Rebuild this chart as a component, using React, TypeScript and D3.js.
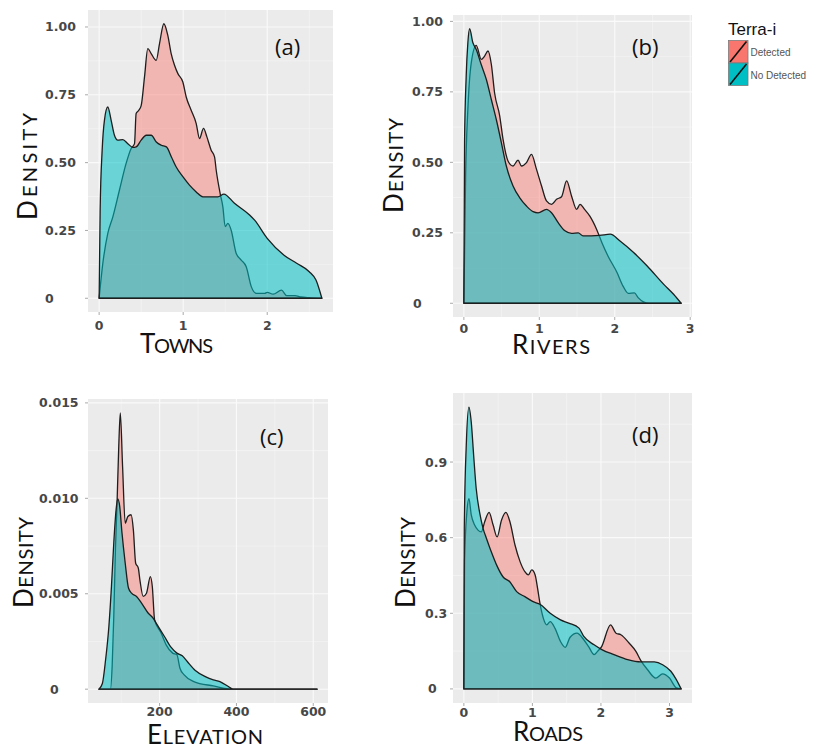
import React from "react";
import * as d3 from "d3";

// ---------------- DATA ----------------
const legendTitle = "Terra-i";
const seriesLabels = ["Detected", "No Detected"];
const seriesColors = ["#F8766D", "#00BFC4"];

// (a) Towns
const townsDetectedX = [0, 0.044, 0.103, 0.163, 0.242, 0.321, 0.381, 0.421, 0.44, 0.472, 0.5, 0.54, 0.579, 0.619, 0.679, 0.718, 0.77, 0.817, 0.857, 0.897, 0.937, 0.996, 1.036, 1.095, 1.155, 1.194, 1.242, 1.282, 1.333, 1.373, 1.393, 1.44, 1.472, 1.5, 1.532, 1.571, 1.63, 1.69, 1.75, 1.81, 1.87, 1.97, 2.0, 2.07, 2.17, 2.23, 2.33, 2.4, 2.5, 2.65];
const townsDetectedY = [0, 0.129, 0.239, 0.3, 0.399, 0.497, 0.552, 0.57, 0.681, 0.693, 0.71, 0.816, 0.92, 0.902, 0.877, 0.938, 1.012, 0.969, 0.902, 0.859, 0.828, 0.797, 0.742, 0.693, 0.644, 0.589, 0.626, 0.595, 0.546, 0.521, 0.472, 0.386, 0.337, 0.264, 0.276, 0.251, 0.166, 0.141, 0.116, 0.043, 0.018, 0.018, 0.022, 0.015, 0.03, 0.01, 0.01, 0.005, 0.002, 0];
const townsNoDetectedX = [0, 0.012, 0.036, 0.063, 0.103, 0.143, 0.182, 0.222, 0.282, 0.341, 0.4, 0.44, 0.5, 0.56, 0.62, 0.68, 0.74, 0.8, 0.86, 0.917, 0.996, 1.075, 1.155, 1.234, 1.333, 1.413, 1.484, 1.61, 1.79, 1.85, 2.0, 2.2, 2.35, 2.5, 2.58, 2.65];
const townsNoDetectedY = [0, 0.325, 0.546, 0.656, 0.705, 0.656, 0.601, 0.583, 0.585, 0.57, 0.556, 0.558, 0.583, 0.601, 0.601, 0.576, 0.564, 0.558, 0.521, 0.484, 0.448, 0.417, 0.392, 0.374, 0.374, 0.374, 0.384, 0.35, 0.307, 0.288, 0.221, 0.159, 0.129, 0.098, 0.067, 0];
const townsXTicks = [0, 1, 2];
const townsYTicks = [0, 0.25, 0.5, 0.75, 1.0];
const townsYTickLabels = ["0", "0.25", "0.50", "0.75", "1.00"];

// (b) Rivers
const riversDetectedX = [0, 0.023, 0.053, 0.098, 0.164, 0.231, 0.275, 0.32, 0.364, 0.408, 0.475, 0.519, 0.585, 0.652, 0.718, 0.763, 0.83, 0.896, 0.963, 1.03, 1.095, 1.162, 1.229, 1.295, 1.362, 1.428, 1.495, 1.54, 1.6, 1.67, 1.76, 1.83, 1.91, 2.03, 2.11, 2.18, 2.26, 2.31, 2.38, 2.45, 2.88];
const riversDetectedY = [0, 0.451, 0.688, 0.853, 0.915, 0.865, 0.877, 0.895, 0.848, 0.745, 0.665, 0.582, 0.505, 0.487, 0.508, 0.487, 0.499, 0.528, 0.475, 0.416, 0.363, 0.351, 0.369, 0.378, 0.434, 0.38, 0.333, 0.351, 0.333, 0.309, 0.262, 0.215, 0.168, 0.109, 0.061, 0.035, 0.037, 0.02, 0.005, 0, 0];
const riversNoDetectedX = [0, 0.009, 0.031, 0.053, 0.076, 0.12, 0.164, 0.231, 0.298, 0.364, 0.43, 0.497, 0.563, 0.652, 0.741, 0.83, 0.918, 0.984, 1.095, 1.162, 1.25, 1.34, 1.428, 1.516, 1.58, 1.8, 1.94, 2.07, 2.25, 2.43, 2.65, 2.78, 2.88];
const riversNoDetectedY = [0, 0.57, 0.806, 0.924, 0.974, 0.924, 0.9, 0.846, 0.794, 0.723, 0.652, 0.57, 0.487, 0.416, 0.374, 0.345, 0.325, 0.321, 0.333, 0.321, 0.286, 0.257, 0.248, 0.25, 0.239, 0.241, 0.245, 0.221, 0.18, 0.132, 0.067, 0.032, 0];
const riversXTicks = [0, 1, 2, 3];
const riversYTicks = [0, 0.25, 0.5, 0.75, 1.0];
const riversYTickLabels = ["0", "0.25", "0.50", "0.75", "1.00"];

// (c) Elevation
const elevationDetectedX = [42, 72, 76.5, 80.7, 85, 89, 93.4, 97.7, 103.6, 110.5, 117.3, 125.8, 131.7, 137.7, 144.5, 148.7, 157.3, 165.8, 176, 181, 187, 204, 217, 234, 245, 253, 264, 289, 340, 390, 610];
const elevationDetectedY = [0, 0, 0.0012, 0.0038, 0.0073, 0.0096, 0.01255, 0.01448, 0.01168, 0.0087, 0.00905, 0.00914, 0.00835, 0.0066, 0.00635, 0.00573, 0.00486, 0.00503, 0.0059, 0.00538, 0.00363, 0.00294, 0.00232, 0.00189, 0.0018, 0.0011, 0.00075, 0.0004, 0.00017, 0, 0];
const elevationNoDetectedX = [42, 51, 59.4, 68, 74.7, 80.7, 86.7, 91, 96, 102, 110.5, 119, 127, 140, 153, 170, 183, 191, 212.6, 229.6, 245, 259, 272, 293, 319, 340, 357, 379, 391, 610];
const elevationNoDetectedY = [0, 0.0003, 0.00154, 0.0033, 0.0054, 0.00766, 0.0094, 0.00997, 0.0096, 0.0082, 0.0066, 0.0053, 0.00503, 0.00486, 0.00451, 0.00399, 0.00372, 0.00346, 0.00276, 0.0022, 0.00189, 0.00175, 0.00145, 0.00098, 0.00066, 0.00049, 0.0004, 0.00014, 0, 0];
const elevationXTicks = [200, 400, 600];
const elevationYTicks = [0, 0.005, 0.01, 0.015];
const elevationYTickLabels = ["0", "0.005", "0.010", "0.015"];

// (d) Roads
const roadsDetectedX = [0, 0.01, 0.044, 0.074, 0.108, 0.157, 0.206, 0.256, 0.304, 0.368, 0.427, 0.485, 0.55, 0.613, 0.672, 0.746, 0.82, 0.89, 0.94, 0.99, 1.04, 1.075, 1.11, 1.16, 1.21, 1.26, 1.33, 1.41, 1.48, 1.55, 1.65, 1.75, 1.82, 1.9, 1.95, 2.01, 2.14, 2.22, 2.29, 2.41, 2.51, 2.58, 2.68, 2.8, 2.9, 3.0, 3.1, 3.17];
const roadsDetectedY = [0, 0.505, 0.702, 0.755, 0.69, 0.65, 0.63, 0.623, 0.663, 0.7, 0.65, 0.603, 0.67, 0.7, 0.663, 0.571, 0.505, 0.465, 0.452, 0.472, 0.452, 0.4, 0.34, 0.28, 0.254, 0.267, 0.24, 0.188, 0.165, 0.205, 0.221, 0.195, 0.168, 0.136, 0.149, 0.168, 0.254, 0.221, 0.215, 0.182, 0.149, 0.113, 0.076, 0.043, 0.06, 0.043, 0.004, 0];
const roadsNoDetectedX = [0, 0.006, 0.035, 0.074, 0.108, 0.143, 0.18, 0.23, 0.28, 0.33, 0.4, 0.48, 0.57, 0.67, 0.77, 0.89, 1.01, 1.11, 1.26, 1.41, 1.53, 1.68, 1.75, 1.9, 2.02, 2.19, 2.39, 2.58, 2.78, 2.9, 3.02, 3.1, 3.17];
const roadsNoDetectedY = [0, 0.637, 0.966, 1.118, 1.058, 0.926, 0.795, 0.7, 0.637, 0.597, 0.544, 0.49, 0.445, 0.425, 0.386, 0.366, 0.346, 0.336, 0.3, 0.274, 0.261, 0.241, 0.208, 0.175, 0.155, 0.136, 0.116, 0.107, 0.107, 0.096, 0.07, 0.037, 0];
const roadsXTicks = [0, 1, 2, 3];
const roadsYTicks = [0, 0.3, 0.6, 0.9];
const roadsYTickLabels = ["0", "0.3", "0.6", "0.9"];

const panelTags = ["(a)", "(b)", "(c)", "(d)"];
const xTitles = ["Towns", "Rivers", "Elevation", "Roads"];
const yTitle = "Density";

// ---------------- LAYOUT ----------------
type Box = { l: number; t: number; r: number; b: number };
type PanelCfg = {
  tag: string;
  xTitle: string;
  detX: number[]; detY: number[]; noX: number[]; noY: number[];
  xTicks: number[]; yTicks: number[]; yTickLabels: string[];
  box: Box;
  yLabelX: number; zeroLabelX: number; xLabelY: number;
  xTitlePos: [number, number, number];
  yTitlePos: [number, number, number];
  tagPos: [number, number];
};

const panels: PanelCfg[] = [
  {
    tag: panelTags[0], xTitle: xTitles[0],
    detX: townsDetectedX, detY: townsDetectedY, noX: townsNoDetectedX, noY: townsNoDetectedY,
    xTicks: townsXTicks, yTicks: townsYTicks, yTickLabels: townsYTickLabels,
    box: { l: 88, t: 10, r: 333, b: 312 },
    yLabelX: 45, zeroLabelX: 45, xLabelY: 325,
    xTitlePos: [140, 353, 73], yTitlePos: [37, 220, 107], tagPos: [275, 55],
  },
  {
    tag: panelTags[1], xTitle: xTitles[1],
    detX: riversDetectedX, detY: riversDetectedY, noX: riversNoDetectedX, noY: riversNoDetectedY,
    xTicks: riversXTicks, yTicks: riversYTicks, yTickLabels: riversYTickLabels,
    box: { l: 453, t: 15, r: 692, b: 317 },
    yLabelX: 412, zeroLabelX: 413, xLabelY: 328,
    xTitlePos: [512, 354, 78], yTitlePos: [403, 213, 95], tagPos: [632, 55],
  },
  {
    tag: panelTags[2], xTitle: xTitles[2],
    detX: elevationDetectedX, detY: elevationDetectedY, noX: elevationNoDetectedX, noY: elevationNoDetectedY,
    xTicks: elevationXTicks, yTicks: elevationYTicks, yTickLabels: elevationYTickLabels,
    box: { l: 88, t: 399, r: 328, b: 703 },
    yLabelX: 39, zeroLabelX: 50, xLabelY: 711,
    xTitlePos: [147, 743.5, 116], yTitlePos: [33, 608, 91], tagPos: [260, 445],
  },
  {
    tag: panelTags[3], xTitle: xTitles[3],
    detX: roadsDetectedX, detY: roadsDetectedY, noX: roadsNoDetectedX, noY: roadsNoDetectedY,
    xTicks: roadsXTicks, yTicks: roadsYTicks, yTickLabels: roadsYTickLabels,
    box: { l: 453, t: 393, r: 692, b: 703 },
    yLabelX: 425, zeroLabelX: 428, xLabelY: 712,
    xTitlePos: [513, 741, 70], yTitlePos: [415, 608, 91], tagPos: [632, 443],
  },
];

const TITLE_FONT = "Lato, 'Open Sans', sans-serif";
const TICK_FONT = "'DejaVu Sans', Verdana, sans-serif";

function SmallCapsTitle({ text }: { text: string }) {
  return (
    <>
      <tspan fontSize={26}>{text[0].toUpperCase()}</tspan>
      <tspan fontSize={20}>{text.slice(1).toUpperCase()}</tspan>
    </>
  );
}

function minorBreaks(major: number[], domain: number[]) {
  const out: number[] = [];
  if (major.length < 2) return out;
  const step = major[1] - major[0];
  const cands = [major[0] - step / 2, ...major.map((m) => m + step / 2)];
  cands.forEach((c) => {
    if (c > domain[0] && c < domain[1]) out.push(c);
  });
  return out;
}

function Panel({ p }: { p: PanelCfg }) {
  const allX = [...p.detX, ...p.noX];
  const allY = [...p.detY, ...p.noY];
  const xMin = d3.min(allX) as number;
  const xMax = d3.max(allX) as number;
  const yMax = d3.max(allY) as number;
  const xPad = (xMax - xMin) * 0.05;
  const xDom = [xMin - xPad, xMax + xPad];
  const yDom = [-0.05 * yMax, yMax * 1.05];
  const xs = d3.scaleLinear().domain(xDom).range([p.box.l, p.box.r]);
  const ys = d3.scaleLinear().domain(yDom).range([p.box.b, p.box.t]);

  const area = d3
    .area<[number, number]>()
    .x((d) => xs(d[0]))
    .y0(ys(0))
    .y1((d) => ys(d[1]))
    .curve(d3.curveMonotoneX);

  const det = d3.zip(p.detX, p.detY) as [number, number][];
  const no = d3.zip(p.noX, p.noY) as [number, number][];

  const xMinor = minorBreaks(p.xTicks, xDom);
  const yMinor = minorBreaks(p.yTicks, yDom);

  return (
    <g>
      <rect x={p.box.l} y={p.box.t} width={p.box.r - p.box.l} height={p.box.b - p.box.t} fill="#EBEBEB" />
      {xMinor.map((v) => (
        <line key={"xm" + v} x1={xs(v)} x2={xs(v)} y1={p.box.t} y2={p.box.b} stroke="#F6F6F6" strokeWidth={0.6} />
      ))}
      {yMinor.map((v) => (
        <line key={"ym" + v} y1={ys(v)} y2={ys(v)} x1={p.box.l} x2={p.box.r} stroke="#F6F6F6" strokeWidth={0.6} />
      ))}
      {p.xTicks.map((v) => (
        <line key={"xg" + v} x1={xs(v)} x2={xs(v)} y1={p.box.t} y2={p.box.b} stroke="#FAFAFA" strokeWidth={1.1} />
      ))}
      {p.yTicks.map((v) => (
        <line key={"yg" + v} y1={ys(v)} y2={ys(v)} x1={p.box.l} x2={p.box.r} stroke="#FAFAFA" strokeWidth={1.1} />
      ))}

      <path d={area(det) || ""} fill={seriesColors[0]} fillOpacity={0.45} stroke="#1e1e1e" strokeWidth={1.3} strokeLinejoin="round" />
      <path d={area(no) || ""} fill={seriesColors[1]} fillOpacity={0.55} stroke="#1e1e1e" strokeWidth={1.3} strokeLinejoin="round" />

      {p.xTicks.map((v) => (
        <line key={"xt" + v} x1={xs(v)} x2={xs(v)} y1={p.box.b} y2={p.box.b + 3} stroke="#AAAAAA" strokeWidth={1} />
      ))}
      {p.yTicks.map((v) => (
        <line key={"yt" + v} y1={ys(v)} y2={ys(v)} x1={p.box.l - 3} x2={p.box.l} stroke="#AAAAAA" strokeWidth={1} />
      ))}
      {p.xTicks.map((v) => (
        <text key={"xl" + v} x={xs(v)} y={p.xLabelY} textAnchor="middle" dominantBaseline="central"
          fontFamily={TICK_FONT} fontWeight="bold" fontSize={12.5} fill="#474747">
          {String(v)}
        </text>
      ))}
      {p.yTicks.map((v, i) => (
        <text key={"yl" + v} x={i === 0 ? p.zeroLabelX : p.yLabelX} y={ys(v)} textAnchor="start" dominantBaseline="central"
          fontFamily={TICK_FONT} fontWeight="bold" fontSize={12.5} fill="#474747">
          {p.yTickLabels[i]}
        </text>
      ))}

      <text x={p.xTitlePos[0]} y={p.xTitlePos[1]} textLength={p.xTitlePos[2]} lengthAdjust="spacing"
        fontFamily={TITLE_FONT} fill="#111">
        <SmallCapsTitle text={p.xTitle} />
      </text>
      <text transform={`translate(${p.yTitlePos[0]},${p.yTitlePos[1]}) rotate(-90)`} x={0} y={0}
        textLength={p.yTitlePos[2]} lengthAdjust="spacing" fontFamily={TITLE_FONT} fill="#111">
        <SmallCapsTitle text={yTitle} />
      </text>

      <text x={p.tagPos[0]} y={p.tagPos[1]} fontFamily="'Open Sans', Lato, sans-serif" fontSize={22} fill="#111">
        {p.tag}
      </text>
    </g>
  );
}

function Legend() {
  const kx = 728.5;
  const ky = [40.5, 63];
  const kw = 19.5;
  const kh = 22.5;
  return (
    <g>
      <text x={728} y={35} fontFamily="'Liberation Sans', Arial, sans-serif" fontSize={17} fill="#111">
        {legendTitle}
      </text>
      {seriesLabels.map((s, i) => (
        <g key={s}>
          <rect x={kx} y={ky[i]} width={kw} height={kh} fill={seriesColors[i]} stroke="#7a7a7a" strokeWidth={0.8} />
          <line x1={kx + 1.5} y1={ky[i] + kh - 1} x2={kx + kw - 1.5} y2={ky[i] + 1} stroke="#111" strokeWidth={1.6} />
          <text x={750.5} y={ky[i] + kh / 2 + 1} dominantBaseline="central"
            fontFamily="'Liberation Sans', Arial, sans-serif" fontSize={10} fill="#555">
            {s}
          </text>
        </g>
      ))}
    </g>
  );
}

export default function App() {
  return (
    <svg width={817} height={749} style={{ position: "absolute", left: 0, top: 0, background: "#fff" }}>
      <rect x={0} y={0} width={817} height={749} fill="#fff" />
      {panels.map((p) => (
        <Panel key={p.tag} p={p} />
      ))}
      <Legend />
    </svg>
  );
}
